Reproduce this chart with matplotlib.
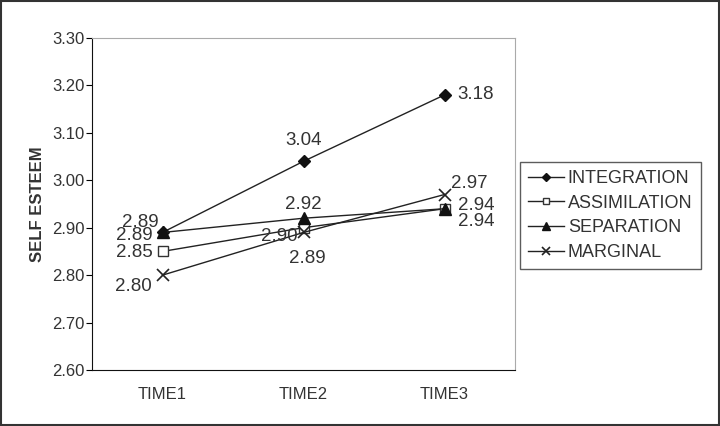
import matplotlib
matplotlib.use("Agg")
import matplotlib.pyplot as plt
from matplotlib.patches import Rectangle

plt.rcParams['font.family'] = ['Liberation Sans', 'DejaVu Sans']

times = ["TIME1", "TIME2", "TIME3"]
integration = [2.89, 3.04, 3.18]
assimilation = [2.85, 2.90, 2.94]
separation = [2.89, 2.92, 2.94]
marginal = [2.80, 2.89, 2.97]
yticks = [2.60, 2.70, 2.80, 2.90, 3.00, 3.10, 3.20, 3.30]

fig = plt.figure(figsize=(7.2, 4.26), dpi=100)
ax = fig.add_axes([92 / 720, 1 - 370 / 426, 423 / 720, 332 / 426])

x = range(len(times))
ax.plot(x, integration, color="#222222", lw=1, marker="D", ms=6, mfc="#111111", mec="#111111", label="INTEGRATION")
ax.plot(x, assimilation, color="#222222", lw=1, marker="s", ms=7, mfc="white", mec="#333333", label="ASSIMILATION")
ax.plot(x, separation, color="#222222", lw=1, marker="^", ms=8, mfc="#111111", mec="#111111", label="SEPARATION")
ax.plot(x, marginal, color="#222222", lw=1, marker="x", ms=9, mew=1.2, mec="#222222", label="MARGINAL")

ax.set_xlim(-0.5, 2.5)
ax.set_ylim(2.60, 3.30)
ax.set_yticks(yticks)
ax.set_yticklabels([f"{v:.2f}" for v in yticks], fontsize=12, color="#333333")
ax.set_xticks(list(x))
ax.set_xticklabels(times, fontsize=12, color="#333333")
ax.tick_params(axis="x", length=0, pad=12)
ax.tick_params(axis="y", length=4, direction="out", pad=1.5)
ax.set_ylabel("SELF ESTEEM", fontsize=12, fontweight="bold", color="#333333", labelpad=5)

for side in ["top", "right"]:
    ax.spines[side].set_color("#aaaaaa")
for side in ["left", "bottom"]:
    ax.spines[side].set_color("#111111")

# data labels (offset in points from each point)
lab = dict(fontsize=13.5, color="#333333", textcoords="offset points")
def put(xi, yi, dx, dy, ha):
    ax.annotate(f"{yi:.2f}", (xi, yi), xytext=(dx, dy), ha=ha, va="center", **lab)

put(0, integration[0], -3, 7, "right")
put(1, integration[1], 0, 15, "center")
put(2, integration[2], 9, 0, "left")

put(0, assimilation[0], -7, -1, "right")
put(1, assimilation[1], -4, -6.5, "right")
put(2, assimilation[2], 10, 2.5, "left")

put(0, separation[0], -7, -2.5, "right")
put(1, separation[1], 0, 10, "center")
put(2, separation[2], 10, -9, "left")

put(0, marginal[0], -8, -8, "right")
put(1, marginal[1], 3, -19, "center")
put(2, marginal[2], 5, 8, "left")

leg = ax.legend(loc="upper left", bbox_to_anchor=(520 / 720, 1 - 162 / 426),
                bbox_transform=fig.transFigure, fontsize=13, frameon=True,
                fancybox=False, edgecolor="#333333", handlelength=2.0,
                handletextpad=0.2, labelspacing=0.42, borderpad=0.45,
                borderaxespad=0, markerscale=0.7)
leg.get_frame().set_linewidth(1)
for t in leg.get_texts():
    t.set_color("#333333")

fig.patches.append(Rectangle((0.001, 0.002), 0.997, 0.995, transform=fig.transFigure,
                             fill=False, edgecolor="#333333", lw=1.5))

fig.savefig("out.png", dpi=100)
